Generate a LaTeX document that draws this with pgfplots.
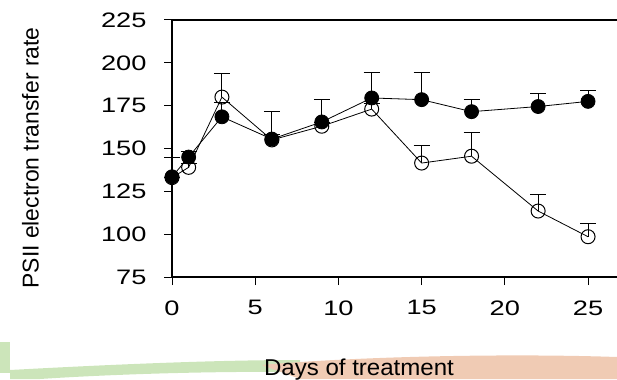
\documentclass[border=0pt]{standalone}
\usepackage{pgfplots}
\pgfplotsset{compat=1.18}
\usepackage{fontspec}
\setmainfont{Liberation Sans}
\newfontfamily\tickfont[FakeStretch=1.3]{Liberation Sans}
\newfontfamily\xlabfont[FakeStretch=1.05]{Liberation Sans}
\definecolor{swgreen}{RGB}{204,229,186}
\definecolor{sworange}{RGB}{240,203,180}
\pgfplotstableread{
x y ey
0 133.5 11
1 145 3
3 168.5 8.5
6 155.5 16
9 165.5 13
12 179.5 15
15 178.5 16
18 171.5 7
22 174.5 7.5
25 177.5 6.5
}\control
\pgfplotstableread{
x y ey
0 133 0
1 139 2
3 180 13.5
6 155 3
9 163 2
12 173 3
15 141.5 10.5
18 145.5 14
22 113.5 9.5
25 98.5 8
}\treat
\begin{document}
\begin{tikzpicture}[x=1bp,y=1bp]
\path[use as bounding box] (0,0) rectangle (617,379);
% decorative background swooshes
\fill[swgreen] (0,6) rectangle (10,37);
\fill[swgreen] (10,0) -- (10,9) .. controls (120,15) and (220,19) .. (300,19) -- (300,7) .. controls (200,8) and (100,4) .. (40,0) -- cycle;
\fill[sworange] (262,14) .. controls (350,22) and (500,26) .. (617,22) -- (617,0) -- (300,0) .. controls (290,4) and (275,9) .. (262,14) -- cycle;
\begin{axis}[
  at={(172bp,102bp)}, anchor=south west,
  scale only axis, width=445bp, height=257bp,
  xmin=0, xmax=26.74, ymin=75, ymax=225,
  axis lines=left, axis line style={-, line width=1.1bp},
  xtick={0,5,...,25}, ytick={75,100,...,225},
  tick align=outside, major tick length=8bp,
  tick style={line width=1bp, black},
  /pgf/number format/assume math mode=true,
  tick label style={font=\tickfont\fontsize{21}{21}\selectfont},
  yticklabel style={xshift=-14bp},
  xticklabel style={yshift=-12bp},
  clip=false,
]
\draw[line width=1.1bp] (rel axis cs:0,1) -- (rel axis cs:1,1);
\addplot[black, line width=0.8bp, mark=*, mark size=7bp, mark options={solid, fill=black},
  error bars/.cd, y dir=plus, y explicit, error mark=|,
  error bar style={line width=1bp},
  error mark options={line width=1bp, mark size=8bp}]
  table[x=x, y=y, y error=ey] {\control};
\addplot[black, line width=0.8bp, mark=o, mark size=7bp, mark options={solid, fill=white, line width=1bp},
  error bars/.cd, y dir=plus, y explicit, error mark=|,
  error bar style={line width=1bp},
  error mark options={line width=1bp, mark size=8bp}]
  table[x=x, y=y, y error=ey] {\treat};
\end{axis}
\node[rotate=90, font=\fontsize{23}{23}\selectfont] at (30.5,221) {PSII electron transfer rate};
\node[anchor=base, font=\xlabfont\fontsize{23}{23}\selectfont] at (359,4) {Days of treatment};
\end{tikzpicture}
\end{document}
